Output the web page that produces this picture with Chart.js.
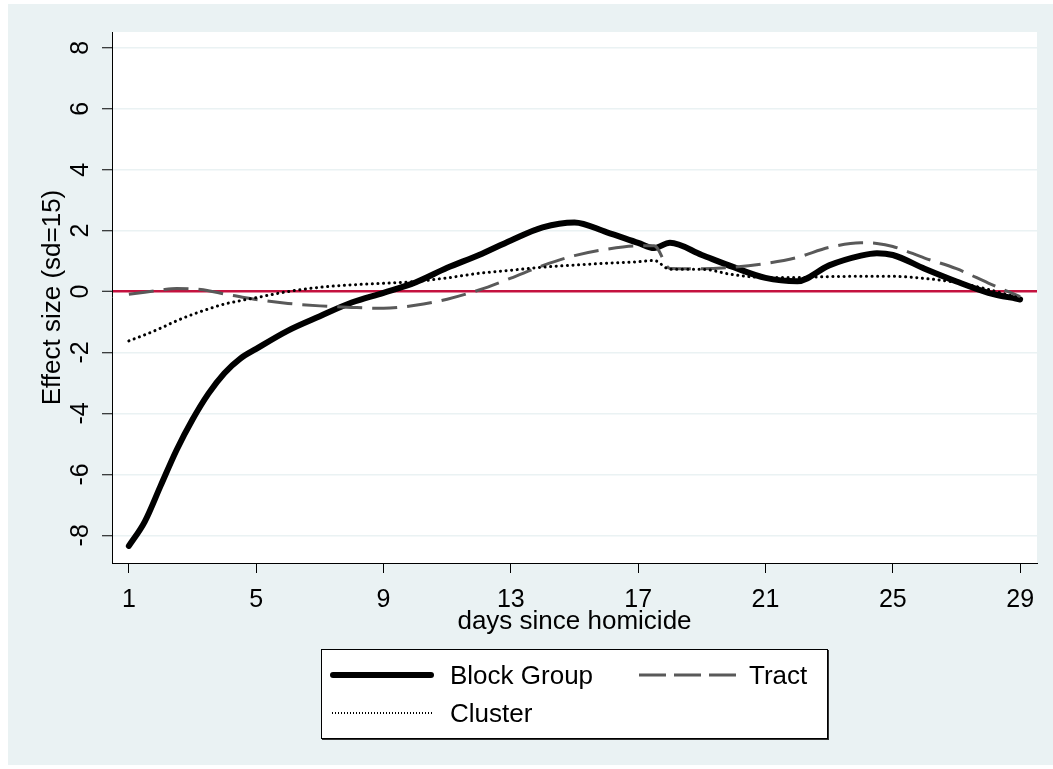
<!DOCTYPE html>
<html>
<head>
<meta charset="utf-8">
<title>Effect size by days since homicide</title>
<script src="https://cdn.jsdelivr.net/npm/chart.js@4.4.1/dist/chart.umd.min.js"></script>
<style>
    html, body { margin: 0; padding: 0; background: #fff; }
    body { width: 1053px; height: 769px; position: relative; overflow: hidden; font-family: "Liberation Sans", Arial, sans-serif; }
    #bg { position: absolute; left: 8px; top: 4px; width: 1045px; height: 761px; background: #EAF2F3; }
    #wrap { position: absolute; left: 0; top: 0; width: 1053px; height: 769px; }
    #legend {
        position: absolute; left: 321px; top: 649px; width: 505px; height: 88px;
        background: #fff; border: 1px solid #000; box-shadow: 1px 1px 0 #333;
    }
    .item { position: absolute; font-size: 26px; color: #000; line-height: 26px; }
    .item svg { position: absolute; top: 0; left: 0; }
    .item span { position: absolute; white-space: nowrap; }
</style>
</head>
<body>
<div id="bg"></div>
<div id="wrap"><canvas id="chart" width="1053" height="769"></canvas></div>
<div id="legend">
    <div class="item" style="left:7px; top:12px;">
        <svg width="106" height="26"><line x1="4" y1="13" x2="102" y2="13" stroke="#000" stroke-width="6" stroke-linecap="round"/></svg>
        <span style="left:121px; top:0;">Block Group</span>
    </div>
    <div class="item" style="left:316px; top:12px;">
        <svg width="106" height="26"><line x1="1" y1="13" x2="103" y2="13" stroke="#595959" stroke-width="3" stroke-dasharray="27 8"/></svg>
        <span style="left:111px; top:0;">Tract</span>
    </div>
    <div class="item" style="left:7px; top:50px;">
        <svg width="106" height="26"><line x1="3" y1="13" x2="103" y2="13" stroke="#000" stroke-width="2" stroke-dasharray="1 2"/></svg>
        <span style="left:121px; top:0;">Cluster</span>
    </div>
</div>
<script>
// days since homicide (x positions of the sampled points)
const days = [1, 1.5, 2, 2.5, 3, 3.5, 4, 4.5, 5, 6, 7, 8, 9, 10, 11, 12, 13, 14, 15, 16, 17, 17.5, 18, 19, 20, 21, 22, 23, 24, 24.5, 25, 26, 27, 28, 29];

// effect sizes
const blockGroup = [-8.35, -7.55, -6.37, -5.2, -4.2, -3.35, -2.68, -2.2, -1.88, -1.28, -0.81, -0.36, -0.04, 0.3, 0.78, 1.2, 1.68, 2.11, 2.27, 1.95, 1.6, 1.43, 1.6, 1.2, 0.8, 0.45, 0.34, 0.86, 1.18, 1.26, 1.2, 0.75, 0.33, -0.04, -0.26];
const tract = [-0.09, -0.02, 0.05, 0.1, 0.09, 0.03, -0.08, -0.17, -0.26, -0.39, -0.47, -0.52, -0.55, -0.45, -0.25, 0.05, 0.44, 0.85, 1.18, 1.39, 1.5, 1.5, 0.76, 0.75, 0.8, 0.92, 1.12, 1.45, 1.6, 1.58, 1.48, 1.1, 0.75, 0.28, -0.17];
const cluster = [-1.62, -1.42, -1.2, -0.96, -0.75, -0.57, -0.41, -0.3, -0.2, 0.0, 0.14, 0.22, 0.27, 0.33, 0.45, 0.6, 0.7, 0.8, 0.87, 0.93, 0.98, 1.02, 0.73, 0.73, 0.55, 0.46, 0.46, 0.49, 0.5, 0.5, 0.5, 0.43, 0.3, 0.07, -0.22];

const xTicks = [1, 5, 9, 13, 17, 21, 25, 29];
const yTicks = [-8, -6, -4, -2, 0, 2, 4, 6, 8];

const FONT = "'Liberation Sans', Arial, sans-serif";

function points(values) {
    return values.map((v, i) => ({ x: days[i], y: v }));
}

// white plot region
const plotBg = {
    id: 'plotBg',
    beforeDraw(chart) {
        const { ctx, chartArea: a } = chart;
        ctx.save();
        ctx.fillStyle = '#fff';
        ctx.fillRect(a.left, a.top, a.right - a.left, a.bottom - a.top);
        ctx.restore();
    }
};

new Chart(document.getElementById('chart'), {
    type: 'line',
    data: {
        datasets: [{
            label: 'Block Group',
            data: points(blockGroup),
            borderColor: '#000',
            borderWidth: 6,
            borderCapStyle: 'round',
            borderJoinStyle: 'round',
            order: 2
        }, {
            label: 'Tract',
            data: points(tract),
            borderColor: '#595959',
            borderWidth: 3,
            borderDash: [25, 10],
            order: 1
        }, {
            label: 'Cluster',
            data: points(cluster),
            borderColor: '#000',
            borderWidth: 3,
            borderDash: [0.1, 5.5],
            borderCapStyle: 'round',
            order: 0
        }]
    },
    options: {
        responsive: false,
        animation: false,
        events: [],
        layout: { padding: { top: 32, right: 16, left: 0, bottom: 0 } },
        elements: {
            point: { radius: 0 },
            line: { cubicInterpolationMode: 'monotone', fill: false }
        },
        plugins: {
            legend: { display: false },
            tooltip: { enabled: false }
        },
        scales: {
            x: {
                type: 'linear',
                min: 0.47,
                max: 29.53,
                afterBuildTicks: (s) => { s.ticks = xTicks.map(v => ({ value: v })); },
                afterFit: (s) => { s.height = 206; },
                grid: { drawOnChartArea: false, drawTicks: true, tickLength: 10, tickColor: '#000', tickWidth: 1 },
                border: { display: true, color: '#000', width: 1 },
                ticks: { color: '#000', font: { family: FONT, size: 25 }, padding: 12, maxRotation: 0, autoSkip: false },
                title: { display: true, text: 'days since homicide', color: '#000', font: { family: FONT, size: 26 }, padding: { top: 0, bottom: 132 } }
            },
            y: {
                type: 'linear',
                min: -8.91,
                max: 8.52,
                afterBuildTicks: (s) => { s.ticks = yTicks.map(v => ({ value: v })); },
                afterFit: (s) => { s.width = 112; },
                grid: {
                    drawTicks: true,
                    tickLength: 10,
                    tickColor: '#000',
                    tickWidth: 1,
                    color: (c) => c.tick && c.tick.value === 0 ? '#C4123F' : '#EAF2F3',
                    lineWidth: (c) => c.tick && c.tick.value === 0 ? 2.5 : 1.5
                },
                border: { display: true, color: '#000', width: 1 },
                ticks: { color: '#000', font: { family: FONT, size: 25 }, padding: 10, minRotation: 90, maxRotation: 90, crossAlign: 'center', autoSkip: false },
                title: { display: true, text: 'Effect size (sd=15)', color: '#000', font: { family: FONT, size: 26 }, padding: { top: 37, bottom: 0 } }
            }
        }
    },
    plugins: [plotBg]
});
</script>
</body>
</html>
